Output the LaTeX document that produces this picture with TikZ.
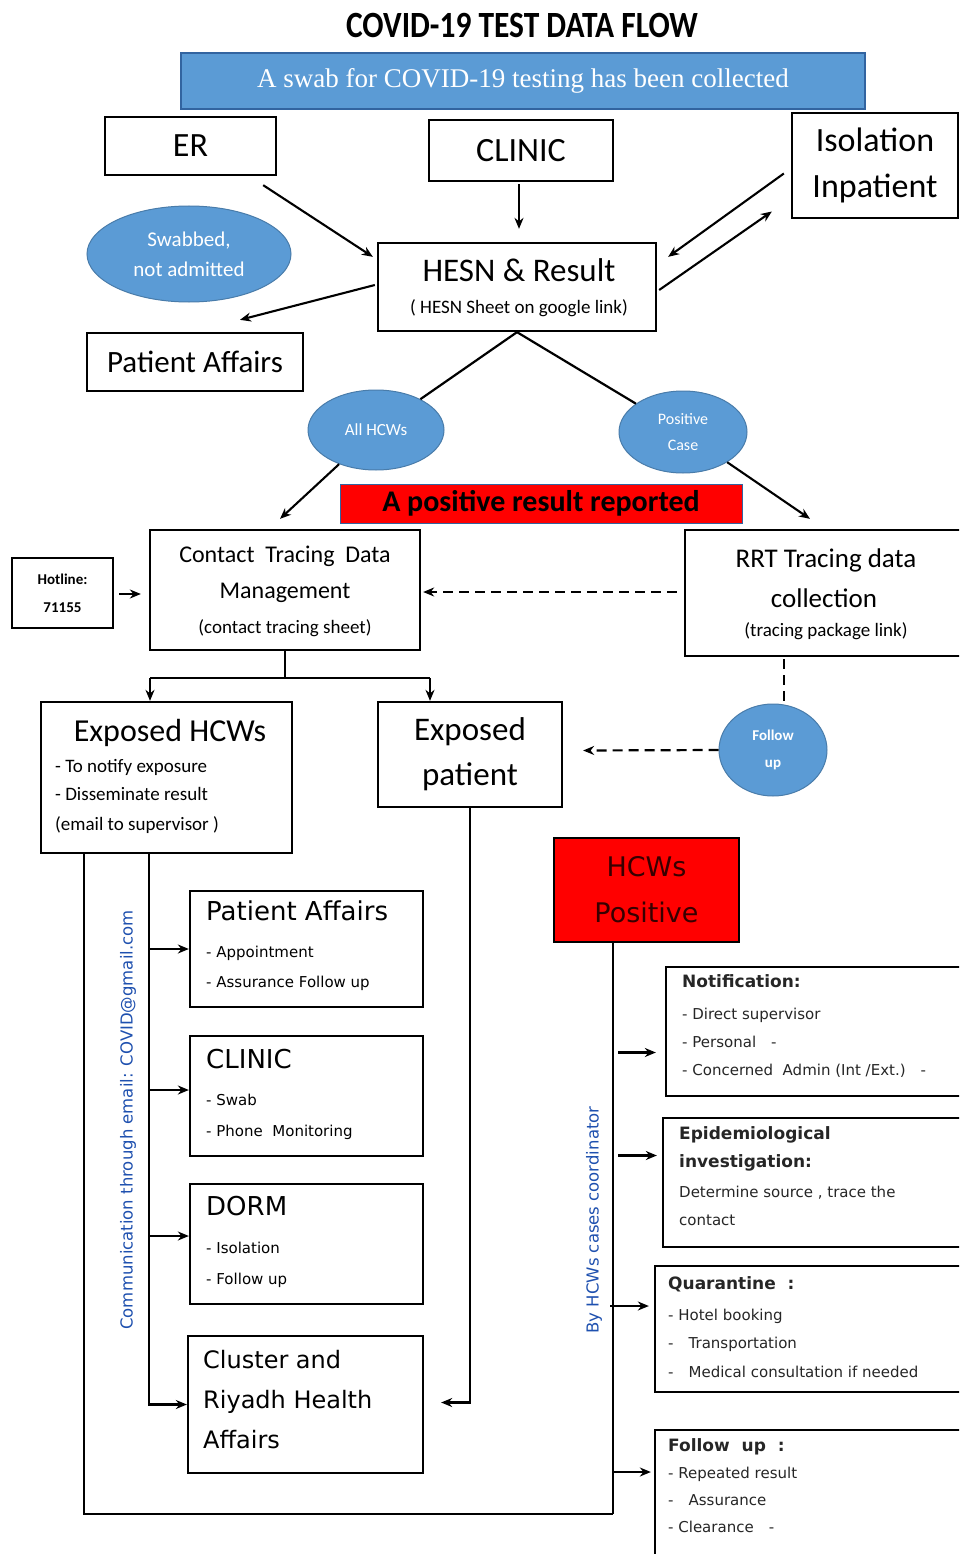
\documentclass[tikz,border=0pt]{standalone}
\usepackage{fontspec}
\setmainfont{Carlito}
\newfontfamily\dvs{DejaVu Sans}
\newfontfamily\lserif{Liberation Serif}
\usetikzlibrary{arrows.meta,shapes.geometric,calc}
\definecolor{bluefill}{RGB}{91,155,213}
\definecolor{blueedge}{RGB}{50,100,160}
\definecolor{vtext}{RGB}{30,80,175}
\definecolor{darkred}{RGB}{55,0,0}
\newcommand{\myfs}[2]{\fontsize{#1}{#2}\selectfont}
\begin{document}
\begin{tikzpicture}[x=1pt,y=-1pt,
  box/.style={draw=black, line width=2.3pt, fill=white, inner sep=0pt},
  oval/.style={ellipse, fill=bluefill, draw=bluefill!80!black, line width=1pt, text=white, align=center, inner sep=0pt},
  arr/.style={line width=2.1pt, -{Stealth[length=11pt,width=9pt]}},
  ln/.style={line width=2.2pt},
  dsh/.style={line width=2.2pt, dash pattern=on 10pt off 6pt},
  t/.style={inner sep=0pt, align=center},
  lt/.style={inner sep=0pt, anchor=mid west},
  rt/.style={inner sep=0pt, anchor=mid west, text=black!85, font=\dvs\myfs{15}{18}},
  rtb/.style={inner sep=0pt, anchor=mid west, text=black!85, font=\dvs\bfseries\myfs{17}{20}},
  bl/.style={inner sep=0pt, anchor=mid west, font=\dvs\myfs{15}{18}},
  blt/.style={inner sep=0pt, anchor=mid west, font=\dvs\myfs{26}{30}},
]
\clip (0,0) rectangle (959,1554);
\fill[white] (0,0) rectangle (959,1554);

% title and banner
\node[t, font=\bfseries\myfs{37}{40}] (title) at (522,25) {\scalebox{0.85}[1]{COVID-19 TEST DATA FLOW}};
\node[draw=blueedge, fill=bluefill, line width=1.5pt, minimum width=684pt, minimum height=56pt, inner sep=0pt, text=white, font=\lserif\myfs{27}{30}] (swab) at (523,81) {A swab for COVID-19 testing has been collected};

% top boxes
\node[box, minimum width=171pt, minimum height=58pt, font=\myfs{34}{40}] (er) at (190.5,146) {ER};
\node[box, minimum width=184pt, minimum height=61pt, font=\myfs{34}{40}] (clinic) at (521,150.5) {CLINIC};
\node[box, minimum width=166pt, minimum height=105pt, align=center, font=\myfs{34}{46}] (iso) at (875,165.5) {Isolation\\Inpatient};
\node[oval, minimum width=204pt, minimum height=96pt, font=\myfs{21}{30}] (swabbed) at (189,254) {Swabbed,\\not admitted};
\node[box, minimum width=278pt, minimum height=88pt] (hesn) at (517,287) {};
\node[t, font=\myfs{33}{36}] (hesnA) at (519,270) {HESN \& Result};
\node[t, font=\myfs{19}{22}] (hesnB) at (519,308) {( HESN Sheet on google link)};
\node[box, minimum width=216pt, minimum height=58pt, font=\myfs{31}{36}] (pa) at (195,362) {Patient Affairs};

\node[oval, minimum width=136pt, minimum height=80pt, font=\myfs{17}{20}] (allhcw) at (376,430) {All HCWs};
\node[oval, minimum width=128pt, minimum height=82pt, font=\myfs{16}{26}] (poscase) at (683,432) {Positive\\Case};
\node[draw=blueedge, fill=red, line width=1pt, minimum width=402pt, minimum height=39pt, inner sep=0pt, font=\bfseries\myfs{30}{32}] (banner) at (541,503.5) {A positive result reported};

% middle
\node[box, minimum width=101pt, minimum height=70pt, align=center, font=\bfseries\myfs{15}{28}] (hot) at (62.5,593) {Hotline:\\71155};
\node[box, minimum width=270pt, minimum height=120pt] (ct) at (285,590) {};
\node[t, font=\myfs{24}{28}] (ctA) at (285,556) {Contact\ \ Tracing\ \ Data};
\node[t, font=\myfs{24}{28}] (ctB) at (285,593) {Management};
\node[t, font=\myfs{19}{22}] (ctC) at (285,628) {(contact tracing sheet)};
\node[box, minimum width=280pt, minimum height=126pt] (rrt) at (825,593) {};
\node[t, font=\myfs{27}{30}] (rrtA) at (826,560) {RRT Tracing data};
\node[t, font=\myfs{27}{30}] (rrtB) at (824,598) {collection};
\node[t, font=\myfs{19}{22}] (rrtC) at (826,631) {(tracing package link)};

\node[box, minimum width=251pt, minimum height=151pt] (ehcw) at (166.5,777.5) {};
\node[t, font=\myfs{32}{36}] (ehA) at (170,733) {Exposed HCWs};
\node[lt, font=\myfs{19}{22}] (ehB) at (55,770) {- To notify exposure};
\node[lt, font=\myfs{19}{22}] (ehC) at (55,798) {- Disseminate result};
\node[lt, font=\myfs{19}{22}] (ehD) at (55,828) {(email to supervisor )};
\node[box, minimum width=184pt, minimum height=105pt, align=center, font=\myfs{33}{45}] (epat) at (470,754.5) {Exposed\\patient};
\node[oval, minimum width=108pt, minimum height=92pt, font=\bfseries\myfs{15}{27}] (fol) at (773,750) {Follow\\up};

% bottom left boxes
\node[box, minimum width=233pt, minimum height=116pt] (pa2) at (306.5,949) {};
\node[blt] (pa2A) at (206,918) {Patient Affairs};
\node[bl] (pa2B) at (206,955) {- Appointment};
\node[bl] (pa2C) at (206,985) {- Assurance Follow up};
\node[box, minimum width=233pt, minimum height=120pt] (cl2) at (306.5,1096) {};
\node[blt] (cl2A) at (206,1066) {CLINIC};
\node[bl] (cl2B) at (206,1103) {- Swab};
\node[bl] (cl2C) at (206,1134) {- Phone\ \ Monitoring};
\node[box, minimum width=233pt, minimum height=120pt] (dorm) at (306.5,1244) {};
\node[blt] (drA) at (206,1213) {DORM};
\node[bl] (drB) at (206,1251) {- Isolation};
\node[bl] (drC) at (206,1282) {- Follow up};
\node[box, minimum width=235pt, minimum height=137pt] (cluster) at (305.5,1404.5) {};
\node[blt, font=\dvs\myfs{24}{28}] (clA) at (203,1366) {Cluster and};
\node[blt, font=\dvs\myfs{24}{28}] (clB) at (203,1406) {Riyadh Health};
\node[blt, font=\dvs\myfs{24}{28}] (clC) at (203,1446) {Affairs};

% bottom right
\node[draw=black, fill=red, line width=2.3pt, minimum width=185pt, minimum height=104pt, inner sep=0pt, align=center, text=darkred, font=\dvs\myfs{27}{46}] (hpos) at (646.5,890) {HCWs\\Positive};
\node[box, minimum width=296pt, minimum height=129pt] (notif) at (814,1031.5) {};
\node[rtb] (nA) at (682,985) {Notification:};
\node[rt] (nB) at (682,1017) {- Direct supervisor};
\node[rt] (nC) at (682,1045) {- Personal\quad -};
\node[rt] (nD) at (682,1073) {- Concerned\ \ Admin (Int /Ext.)\quad -};
\node[box, minimum width=299pt, minimum height=129pt] (epi) at (812.5,1182.5) {};
\node[rtb] (eA) at (679,1137) {Epidemiological};
\node[rtb] (eB) at (679,1165) {investigation:};
\node[rt] (eC) at (679,1195) {Determine source , trace the};
\node[rt] (eD) at (679,1223) {contact};
\node[box, minimum width=307pt, minimum height=126pt] (quar) at (808.5,1329) {};
\node[rtb] (qA) at (668,1287) {Quarantine\ \ :};
\node[rt] (qB) at (668,1318) {- Hotel booking};
\node[rt] (qC) at (668,1346) {-\quad Transportation};
\node[rt] (qD) at (668,1375) {-\quad Medical consultation if needed};
\node[box, minimum width=307pt, minimum height=130pt] (fbox) at (808.5,1495) {};
\node[rtb] (fA) at (668,1449) {Follow\ \ up\ \ :};
\node[rt] (fB) at (668,1476) {- Repeated result};
\node[rt] (fC) at (668,1503) {-\quad Assurance};
\node[rt] (fD) at (668,1530) {- Clearance\quad -};

% vertical texts
\node[t, rotate=90, text=vtext, font=\dvs\myfs{16.5}{18}] (comm) at (128,1120) {Communication through email: COVID@gmail.com};
\node[t, rotate=90, text=vtext, font=\dvs\myfs{16.5}{18}] (coord) at (594,1220) {By HCWs cases coordinator};

% coordinates
\coordinate (splitL) at (150,678);
\coordinate (splitR) at (430,678);
\coordinate (trunk) at (149,853);
\coordinate (botL) at (84,1514);
\coordinate (botR) at (613,1514);

% connectors top
\draw[arr] ($(er.south east)+(-14,9)$) -- ($(hesn.north west)+(-4,15)$);
\draw[arr] ($(clinic.south)+(-2,2)$) -- ($(hesn.north)+(2,-13)$);
\draw[arr] ($(iso.west)+(-7,8)$) -- ($(hesn.north east)+(11,15)$);
\draw[arr] ($(hesn.east)+(2,3)$) -- ($(iso.west)+(-19,46)$);
\draw[arr] ($(hesn.west)+(-2,-2)$) -- ($(pa.north)+(45,-12)$);
\draw[ln] (hesn.south) -- (allhcw);
\draw[ln] (hesn.south) -- (poscase);
\draw[arr] (allhcw) -- ($(ct.north)+(-5,-10)$);
\draw[arr] (poscase) -- ($(rrt.north)+(-15,-10)$);

% middle connectors
\draw[arr] ($(hot.east)+(5,1)$) -- ($(ct.west)+(-8,4)$);
\draw[dsh, -{Stealth[length=11pt,width=9pt]}] ($(rrt.west)+(-7,-1)$) -- ($(ct.east)+(2,2)$);
\draw[ln] (ct.south) -- (ct.south |- splitL);
\draw[ln] (splitL) -- (splitR);
\draw[arr] (splitL) -- (splitL |- ehcw.north);
\draw[arr] (splitR) -- (splitR |- epat.north);
\draw[dsh] ($(rrt.south)+(-41,2)$) -- ($(fol.north)+(11,3)$);
\draw[dsh, -{Stealth[length=11pt,width=9pt]}] (fol.west) -- ($(epat.east)+(20,-4)$);
\draw[arr] (epat.south) |- ($(cluster.east)+(17,-2)$);

% bottom left connectors
\draw[ln] (ehcw.south -| botL) -- (botL) -- (botR);
\draw[arr] (trunk) |- (cluster.west);
\draw[arr] (trunk |- pa2.west) -- (pa2.west);
\draw[arr] ($(trunk |- cl2.west)+(0,-6)$) -- ($(cl2.west)+(0,-6)$);
\draw[arr] ($(trunk |- dorm.west)+(0,-8)$) -- ($(dorm.west)+(0,-8)$);

% bottom right connectors
\draw[ln] (hpos.south -| botR) -- (botR);
\draw[arr] ($(notif.west -| botR)+(5,21)$) -- ($(notif.west)+(-9,21)$);
\draw[arr] ($(epi.west -| botR)+(5,-27)$) -- ($(epi.west)+(-5,-27)$);
\draw[arr] ($(quar.west -| botR)+(-3,-23)$) -- ($(quar.west)+(-5,-23)$);
\draw[arr] ($(fbox.west -| botR)+(1,-23)$) -- ($(fbox.west)+(-3,-23)$);
\end{tikzpicture}
\end{document}
